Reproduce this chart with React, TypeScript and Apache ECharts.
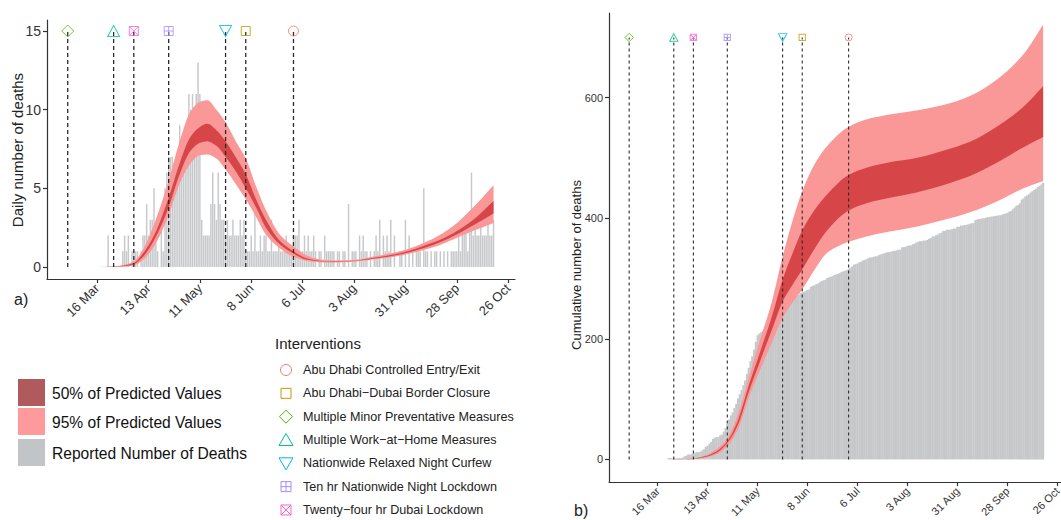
import React, { useEffect, useRef } from "react";
import * as echarts from "echarts";

// x values are days counted from 16 March 2020
const tickDays = [0, 28, 56, 84, 112, 140, 168, 196, 224];
const tickLabels = ["16 Mar", "13 Apr", "11 May", "8 Jun", "6 Jul", "3 Aug", "31 Aug", "28 Sep", "26 Oct"];
const dailyTicks = [0, 5, 10, 15];
const cumTicks = [0, 200, 400, 600];

const firstReportDay = 6;
const dailyDeaths = [
  2, 0, 0, 0, 0, 0, 0, 0,
  1, 2, 1, 2, 0, 1, 1, 1, 1, 0,
  1, 2, 2, 4, 2, 3, 3, 5,
  2, 1, 0, 3, 1, 5, 6, 7,
  7, 7, 5, 7, 7, 9, 7,
  7, 8, 8, 11, 10, 11,
  8, 11, 13, 11,
  3, 2, 2,
  2, 2, 4, 6, 4, 3, 6, 4,
  3, 3, 2, 3, 2, 2, 3, 2, 2,
  2, 3, 2, 3, 1,
  1, 1, 2, 1, 5, 1, 1, 2, 1, 2, 2, 1, 1, 3,
  1, 1, 1, 2, 1, 1, 1, 2, 1, 1, 1, 2,
  2, 2, 3, 1, 1, 2, 1, 2, 1, 1, 2, 1, 0, 1, 1, 0,
  2, 1, 1, 1, 1, 1, 0, 1, 1, 0, 1, 1, 0, 4, 0, 1, 1, 1,
  0, 2, 1, 2, 1, 1, 0, 1, 0, 1, 2, 1, 3, 0, 2, 1, 2, 1, 3,
  0, 2, 0, 0, 1, 1, 0, 3, 0, 2, 0, 1, 0, 1, 1, 1, 0, 5, 1,
  1, 0, 1, 0, 1, 1, 0, 1, 0, 1, 0, 1, 0, 1, 1, 1, 1, 2, 1,
  3, 3, 3, 1, 3, 6, 2, 3, 2, 2, 3, 2, 2, 2, 3, 2, 2, 3,
];

const dailyBandDays = [0, 9, 15, 20, 25, 31, 39, 45, 51, 56, 60, 65, 70, 76, 81, 87, 92, 100, 107, 114, 121, 129, 140, 150, 165, 183, 194, 205, 216];
const dailyUpper95 = [0, 0.05, 0.15, 0.35, 1.1, 2.7, 5.5, 8.0, 9.9, 10.5, 10.6, 10.0, 9.2, 7.9, 6.9, 5.0, 3.6, 2.0, 1.3, 0.75, 0.5, 0.42, 0.45, 0.65, 1.0, 1.8, 2.6, 3.8, 5.2];
const dailyUpper50 = [0, 0.03, 0.1, 0.25, 0.85, 2.0, 4.4, 6.6, 8.3, 8.9, 9.1, 8.7, 8.0, 6.9, 5.9, 4.2, 3.0, 1.6, 1.0, 0.55, 0.4, 0.36, 0.4, 0.57, 0.88, 1.55, 2.15, 3.0, 4.2];
const dailyLower50 = [0, 0.01, 0.06, 0.18, 0.65, 1.7, 3.8, 5.9, 7.4, 7.9, 8.0, 7.7, 7.0, 6.0, 5.0, 3.7, 2.5, 1.4, 0.85, 0.47, 0.36, 0.33, 0.38, 0.52, 0.8, 1.4, 1.95, 2.65, 3.4];
const dailyLower95 = [0, 0, 0.03, 0.1, 0.45, 1.3, 3.3, 5.3, 6.6, 7.1, 7.15, 6.9, 6.2, 5.2, 4.3, 3.1, 2.05, 1.15, 0.65, 0.4, 0.3, 0.28, 0.33, 0.47, 0.72, 1.25, 1.75, 2.3, 2.8];

const cumBandDays = [0, 9, 15, 20, 26, 33, 39, 45, 51, 57, 64, 70, 76, 81, 88, 95, 107, 117, 130, 145, 160, 175, 190, 205, 216];
const cumUpper95 = [0, 0, 0.5, 1.5, 6, 17, 35, 75, 135, 195, 262, 336, 400, 445, 490, 520, 552, 564, 572, 579, 588, 603, 630, 672, 721];
const cumUpper50 = [0, 0, 0.35, 1.1, 4.6, 13.5, 30, 65, 122, 175, 237, 298, 345, 380, 414, 440, 472, 484, 493, 500, 512, 527, 552, 585, 619];
const cumLower50 = [0, 0, 0.25, 0.8, 3.6, 11, 27, 58, 112, 160, 215, 262, 292, 315, 350, 380, 413, 425, 434, 443, 455, 470, 492, 518, 535];
const cumLower95 = [0, 0, 0.15, 0.5, 2.6, 8.5, 22, 50, 102, 146, 194, 235, 262, 282, 315, 343, 361, 370, 378, 386, 397, 410, 428, 450, 462];

const interventionNames = [
  "Abu Dhabi Controlled Entry/Exit",
  "Abu Dhabi\u2212Dubai Border Closure",
  "Multiple Minor Preventative Measures",
  "Multiple Work\u2212at\u2212Home Measures",
  "Nationwide Relaxed Night Curfew",
  "Ten hr Nationwide Night Lockdown",
  "Twenty\u2212four hr Dubai Lockdown",
];
const interventionDays = [107, 81, -16, 9, 70, 39, 20];
const interventionColors = ["#F8766D", "#C49A00", "#53B400", "#00C094", "#00B6EB", "#A58AFF", "#FB61D7"];
const interventionShapes = ["circle", "square", "diamond", "triangle", "invTriangle", "squarePlus", "squareCross"];
const dailyMarkerLevel = 15;
const cumMarkerLevel = 700;

const FONT = "Liberation Sans, Arial, Helvetica, sans-serif";
const COL_95 = "#FA9797";
const COL_50 = "#D64547";
const COL_BAR = "#C6C8CA";

// ---- smooth (monotone cubic) band shape, drawn through pixel points given by the axes ----
function tangents(p: number[][]) {
  const n = p.length;
  const m: number[] = [];
  for (let i = 0; i < n - 1; i++) {
    const dx = p[i + 1][0] - p[i][0];
    m.push(dx === 0 ? 0 : (p[i + 1][1] - p[i][1]) / dx);
  }
  const t: number[] = [];
  for (let i = 0; i < n; i++) {
    if (i === 0) t.push(m[0] || 0);
    else if (i === n - 1) t.push(m[n - 2] || 0);
    else {
      const a = m[i - 1], b = m[i];
      if (a * b <= 0) t.push(0);
      else {
        const h0 = p[i][0] - p[i - 1][0], h1 = p[i + 1][0] - p[i][0];
        t.push((3 * (h0 + h1)) / ((2 * h1 + h0) / a + (h1 + 2 * h0) / b));
      }
    }
  }
  return t;
}

echarts.graphic.registerShape(
  "bandArea",
  (echarts.graphic as any).extendShape({
    shape: { up: [] as number[][], lo: [] as number[][] },
    buildPath(ctx: any, shape: any) {
      const up: number[][] = shape.up;
      const lo: number[][] = shape.lo;
      if (!up || up.length < 2) return;
      const tu = tangents(up);
      const tl = tangents(lo);
      ctx.moveTo(up[0][0], up[0][1]);
      for (let i = 0; i < up.length - 1; i++) {
        const h = (up[i + 1][0] - up[i][0]) / 3;
        ctx.bezierCurveTo(up[i][0] + h, up[i][1] + tu[i] * h, up[i + 1][0] - h, up[i + 1][1] - tu[i + 1] * h, up[i + 1][0], up[i + 1][1]);
      }
      const n = lo.length;
      ctx.lineTo(lo[n - 1][0], lo[n - 1][1]);
      for (let i = n - 1; i > 0; i--) {
        const h = (lo[i][0] - lo[i - 1][0]) / 3;
        ctx.bezierCurveTo(lo[i][0] - h, lo[i][1] - tl[i] * h, lo[i - 1][0] + h, lo[i - 1][1] + tl[i - 1] * h, lo[i - 1][0], lo[i - 1][1]);
      }
      ctx.closePath();
    },
  })
);

const symbolPaths: Record<string, string> = {
  circle: "path://M5,0A5,5,0,1,1,5,10A5,5,0,1,1,5,0Z",
  square: "path://M0,0H10V10H0Z",
  diamond: "path://M5,0L10,5L5,10L0,5Z",
  triangle: "path://M5,0L10,9L0,9Z",
  invTriangle: "path://M0,0L10,0L5,9Z",
  squarePlus: "path://M0,0H10V10H0Z M5,0V10 M0,5H10",
  squareCross: "path://M0,0H10V10H0Z M0,0L10,10 M10,0L0,10",
};
const symbolSizes: Record<string, number[]> = {
  circle: [10, 10],
  square: [9, 9],
  diamond: [12, 12],
  triangle: [12, 11],
  invTriangle: [12, 11],
  squarePlus: [9, 9],
  squareCross: [9, 9],
};

function tickFormatter(v: number) {
  const i = tickDays.indexOf(Math.round(v));
  return i >= 0 ? tickLabels[i] : "";
}

function bandSeries(xi: number, days: number[], lo: number[], hi: number[], color: string) {
  return {
    type: "custom", xAxisIndex: xi, yAxisIndex: xi, silent: true, z: 2,
    data: days.map((d, i) => [d, lo[i], hi[i]]),
    encode: { x: 0, y: [1, 2] },
    renderItem: (params: any, api: any) => {
      if (params.dataIndexInside !== 0) return null;
      const up: number[][] = [];
      const low: number[][] = [];
      for (let j = 0; j < params.dataInsideLength; j++) {
        const d = api.value(0, j);
        up.push(api.coord([d, api.value(2, j)]));
        low.push(api.coord([d, api.value(1, j)]));
      }
      return { type: "bandArea", shape: { up, lo: low }, style: { fill: color, stroke: null } };
    },
  };
}

function interventionSeries(xi: number, level: number, scale: number, dash: number[], lw: number) {
  const out: any[] = [];
  interventionDays.forEach((d) => {
    out.push({
      type: "line", xAxisIndex: xi, yAxisIndex: xi, silent: true, symbol: "none",
      data: [[d, 0], [d, level]],
      lineStyle: { color: "#2a2a2a", width: lw, type: dash }, z: 4,
    });
  });
  interventionDays.forEach((d, i) => {
    const sh = interventionShapes[i];
    out.push({
      type: "scatter", name: interventionNames[i], xAxisIndex: xi, yAxisIndex: xi, silent: true,
      data: [[d, level]],
      symbol: symbolPaths[sh],
      symbolSize: symbolSizes[sh].map((s) => s * scale),
      itemStyle: { color: "rgba(255,255,255,0)", borderColor: interventionColors[i], borderWidth: 1 },
      z: 6,
    });
  });
  return out;
}

function legendShape(shape: string, cx: number, cy: number, color: string) {
  const st = { fill: "none", stroke: color, lineWidth: 1 };
  const els: any[] = [];
  if (shape === "circle") els.push({ type: "circle", shape: { cx, cy, r: 5.5 }, style: st });
  if (shape === "square" || shape === "squarePlus" || shape === "squareCross")
    els.push({ type: "rect", shape: { x: cx - 5, y: cy - 5, width: 10, height: 10 }, style: st });
  if (shape === "squarePlus") {
    els.push({ type: "line", shape: { x1: cx, y1: cy - 5, x2: cx, y2: cy + 5 }, style: st });
    els.push({ type: "line", shape: { x1: cx - 5, y1: cy, x2: cx + 5, y2: cy }, style: st });
  }
  if (shape === "squareCross") {
    els.push({ type: "line", shape: { x1: cx - 5, y1: cy - 5, x2: cx + 5, y2: cy + 5 }, style: st });
    els.push({ type: "line", shape: { x1: cx + 5, y1: cy - 5, x2: cx - 5, y2: cy + 5 }, style: st });
  }
  if (shape === "diamond")
    els.push({ type: "polygon", shape: { points: [[cx, cy - 6.5], [cx + 6.5, cy], [cx, cy + 6.5], [cx - 6.5, cy]] }, style: st });
  if (shape === "triangle")
    els.push({ type: "polygon", shape: { points: [[cx, cy - 6.5], [cx + 7, cy + 5.5], [cx - 7, cy + 5.5]] }, style: st });
  if (shape === "invTriangle")
    els.push({ type: "polygon", shape: { points: [[cx - 7, cy - 5.5], [cx + 7, cy - 5.5], [cx, cy + 6.5]] }, style: st });
  return els;
}

export default function App() {
  const ref = useRef<HTMLDivElement>(null);
  useEffect(() => {
    if (!ref.current) return;
    const chart = echarts.init(ref.current, undefined, { renderer: "svg" });

    const reportDays = dailyDeaths.map((_, i) => firstReportDay + i);
    const cumulativeDeaths: number[] = [];
    dailyDeaths.reduce((acc, v) => {
      const s = acc + v;
      cumulativeDeaths.push(s);
      return s;
    }, 0);

    const axisLineStyle = { color: "#333", width: 1.2 };
    const xAxisBase = (gi: number, fs: number) => ({
      type: "value", gridIndex: gi, min: -27.3, max: 227.7,
      axisLine: { show: true, onZero: false, lineStyle: axisLineStyle },
      axisTick: { show: true, customValues: tickDays, length: 4, lineStyle: axisLineStyle },
      axisLabel: { customValues: tickDays, formatter: tickFormatter, rotate: 45, fontSize: fs, color: "#333", margin: 7, fontFamily: FONT },
      splitLine: { show: false },
    });

    const graphic: any[] = [];
    graphic.push({ type: "text", x: 17, y: 150, rotation: Math.PI / 2, style: { text: "Daily number of deaths", fontSize: 15, fontFamily: FONT, fill: "#222", align: "center", verticalAlign: "middle" } });
    graphic.push({ type: "text", x: 576, y: 265, rotation: Math.PI / 2, style: { text: "Cumulative number of deaths", fontSize: 13, fontFamily: FONT, fill: "#222", align: "center", verticalAlign: "middle" } });
    graphic.push({ type: "text", x: 14, y: 299, style: { text: "a)", fontSize: 16, fontFamily: FONT, fill: "#222", align: "left", verticalAlign: "middle" } });
    graphic.push({ type: "text", x: 574, y: 510, style: { text: "b)", fontSize: 16, fontFamily: FONT, fill: "#222", align: "left", verticalAlign: "middle" } });

    const bandLegend = [
      { label: "50% of Predicted Values", color: "#B05A5E", y: 379 },
      { label: "95% of Predicted Values", color: "#FF9A9C", y: 408 },
      { label: "Reported Number of Deaths", color: "#C2C5C7", y: 439 },
    ];
    bandLegend.forEach((b) => {
      graphic.push({ type: "rect", shape: { x: 18, y: b.y, width: 27, height: 27 }, style: { fill: b.color } });
      graphic.push({ type: "text", x: 52, y: b.y + 14, style: { text: b.label, fontSize: 15.6, fontFamily: FONT, fill: "#111", align: "left", verticalAlign: "middle" } });
    });

    graphic.push({ type: "text", x: 275, y: 343, style: { text: "Interventions", fontSize: 15, fontFamily: FONT, fill: "#222", align: "left", verticalAlign: "middle" } });
    interventionNames.forEach((n, i) => {
      const cy = 370 + i * 23.33;
      legendShape(interventionShapes[i], 286, cy, interventionColors[i]).forEach((e) => graphic.push(e));
      graphic.push({ type: "text", x: 303, y: cy, style: { text: n, fontSize: 12.6, fontFamily: FONT, fill: "#222", align: "left", verticalAlign: "middle" } });
    });

    const option: any = {
      animation: false,
      backgroundColor: "#fff",
      textStyle: { fontFamily: FONT },
      grid: [
        { left: 47, top: 20, width: 468, height: 259 },
        { left: 609, top: 13, width: 455, height: 476 },
      ],
      xAxis: [xAxisBase(0, 13), xAxisBase(1, 11)],
      yAxis: [
        {
          type: "value", gridIndex: 0, min: -0.763, max: 15.7,
          axisLine: { show: true, onZero: false, lineStyle: axisLineStyle },
          axisTick: { show: true, customValues: dailyTicks, length: 4, lineStyle: axisLineStyle },
          axisLabel: { customValues: dailyTicks, fontSize: 14, color: "#333", margin: 6, fontFamily: FONT },
          splitLine: { show: false },
        },
        {
          type: "value", gridIndex: 1, min: -37.6, max: 740.6,
          axisLine: { show: true, onZero: false, lineStyle: axisLineStyle },
          axisTick: { show: true, customValues: cumTicks, length: 4, lineStyle: axisLineStyle },
          axisLabel: { customValues: cumTicks, fontSize: 11, color: "#333", margin: 6, fontFamily: FONT },
          splitLine: { show: false },
        },
      ],
      series: [
        {
          type: "bar", xAxisIndex: 0, yAxisIndex: 0, silent: true, barWidth: 1.45,
          data: reportDays.map((d, i) => [d, dailyDeaths[i]]),
          itemStyle: { color: COL_BAR }, z: 1,
        },
        {
          type: "bar", xAxisIndex: 1, yAxisIndex: 1, silent: true, barWidth: 2.1,
          data: reportDays.map((d, i) => [d, cumulativeDeaths[i]]),
          itemStyle: { color: COL_BAR }, z: 1,
        },
        bandSeries(0, dailyBandDays, dailyLower95, dailyUpper95, COL_95),
        bandSeries(0, dailyBandDays, dailyLower50, dailyUpper50, COL_50),
        bandSeries(1, cumBandDays, cumLower95, cumUpper95, COL_95),
        bandSeries(1, cumBandDays, cumLower50, cumUpper50, COL_50),
        ...interventionSeries(0, dailyMarkerLevel, 1, [4, 3], 1.3),
        ...interventionSeries(1, cumMarkerLevel, 0.7, [3, 3], 1.1),
      ],
      graphic,
    };
    chart.setOption(option);
    return () => chart.dispose();
  }, []);

  return (
    <div style={{ position: "fixed", left: 0, top: 0, width: 1061, height: 520, overflow: "hidden", background: "#fff" }}>
      <div ref={ref} style={{ width: 1070, height: 520 }} />
    </div>
  );
}
